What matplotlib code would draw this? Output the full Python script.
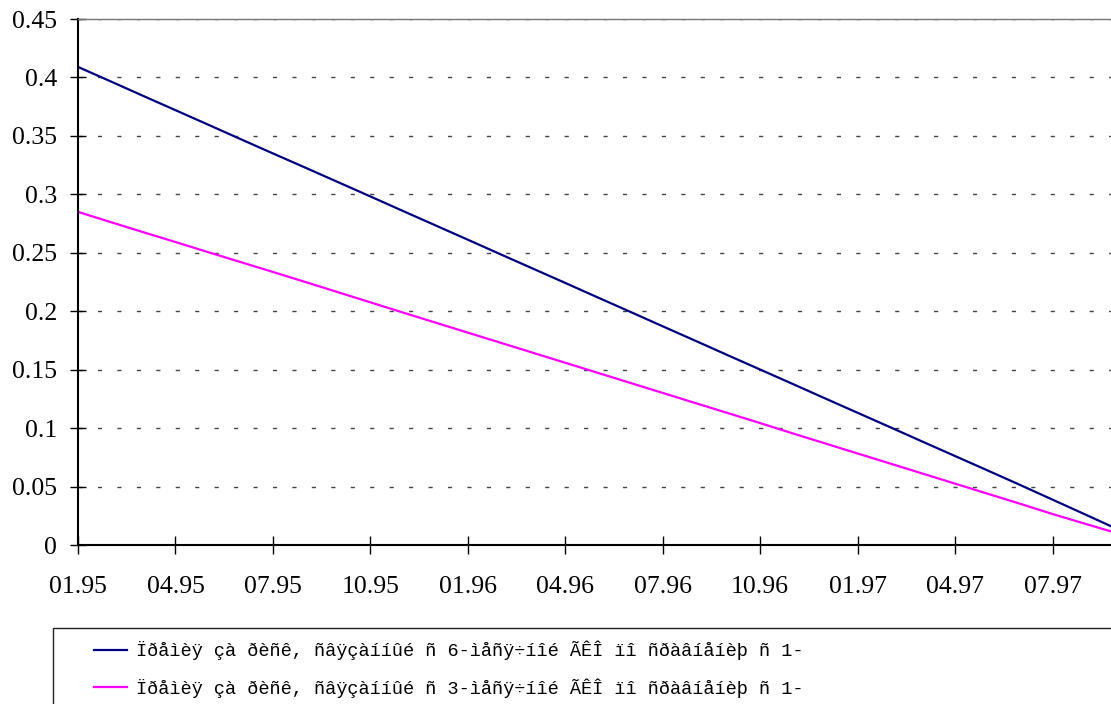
import matplotlib
matplotlib.use('Agg')
import matplotlib.pyplot as plt
from matplotlib.patches import Rectangle

plt.rcParams['lines.scale_dashes'] = False

# monthly observations, 01.95 .. 09.97
months = ['01.95', '02.95', '03.95', '04.95', '05.95', '06.95', '07.95', '08.95', '09.95',
          '10.95', '11.95', '12.95', '01.96', '02.96', '03.96', '04.96', '05.96', '06.96',
          '07.96', '08.96', '09.96', '10.96', '11.96', '12.96', '01.97', '02.97', '03.97',
          '04.97', '05.97', '06.97', '07.97', '08.97', '09.97']

premium_6m = [0.4090, 0.3967, 0.3843, 0.3720, 0.3597, 0.3473, 0.3350, 0.3228, 0.3105,
              0.2982, 0.2858, 0.2735, 0.2612, 0.2488, 0.2365, 0.2242, 0.2118, 0.1995,
              0.1871, 0.1748, 0.1624, 0.1501, 0.1378, 0.1254, 0.1131, 0.1008, 0.0884,
              0.0761, 0.0638, 0.0514, 0.0388, 0.0262, 0.0135]

premium_3m = [0.2850, 0.2763, 0.2677, 0.2592, 0.2506, 0.2421, 0.2336, 0.2250, 0.2163,
              0.2076, 0.1989, 0.1903, 0.1817, 0.1731, 0.1645, 0.1559, 0.1473, 0.1387,
              0.1301, 0.1215, 0.1129, 0.1043, 0.0955, 0.0869, 0.0783, 0.0697, 0.0611,
              0.0525, 0.0439, 0.0353, 0.0265, 0.0182, 0.0100]

labels = ['Ïðåìèÿ çà ðèñê, ñâÿçàííûé ñ 6-ìåñÿ÷íîé ÃÊÎ ïî ñðàâíåíèþ ñ 1-',
          'Ïðåìèÿ çà ðèñê, ñâÿçàííûé ñ 3-ìåñÿ÷íîé ÃÊÎ ïî ñðàâíåíèþ ñ 1-']

yticks = [0, 0.05, 0.1, 0.15, 0.2, 0.25, 0.3, 0.35, 0.4, 0.45]

W, H = 1111, 704
fig = plt.figure(figsize=(W / 100, H / 100), dpi=100)
ax = fig.add_axes([78 / W, 1 - 545 / H, 1 - 78 / W, (545 - 19) / H])

x = list(range(len(months)))
l1, = ax.plot(x, premium_6m, color='#000080', lw=1.6)
l2, = ax.plot(x, premium_3m, color='#FF00FF', lw=1.6)

ax.set_xlim(0, 31.8)
ax.set_ylim(0, 0.45)
ax.set_yticks(yticks)
ax.set_yticklabels([f'{v:g}' for v in yticks])
ax.set_xticks(x[::3])
ax.set_xticklabels(months[::3])

for t in ax.get_xticklabels() + ax.get_yticklabels():
    t.set_family('Liberation Serif')
    t.set_fontsize(18.5)

ax.tick_params(axis='y', direction='inout', length=12, width=1, pad=9)
ax.tick_params(axis='x', direction='inout', length=13, width=1, pad=16)

ax.yaxis.grid(True, color='#444444', lw=1, dashes=(3, 11))
ax.spines['right'].set_visible(False)
ax.spines['top'].set_color('#777777')
ax.spines['top'].set_linewidth(1)
ax.spines['left'].set_linewidth(1.5)
ax.spines['bottom'].set_linewidth(1.5)

# legend box runs off the right and bottom edges
fig.patches.append(Rectangle((53 / W, -0.1), 1.2, 1 - 628 / H + 0.1,
                             transform=fig.transFigure, fill=False,
                             edgecolor='#222222', lw=1))
fig.legend([l1, l2], labels, loc='upper left',
           bbox_to_anchor=(94 / W, 1 - 641 / H), frameon=False,
           prop={'family': 'Liberation Mono', 'size': 13.4},
           handlelength=1.8, handletextpad=0.45, labelspacing=0.95,
           borderpad=0, borderaxespad=0)

fig.savefig('out.png', dpi=100)
